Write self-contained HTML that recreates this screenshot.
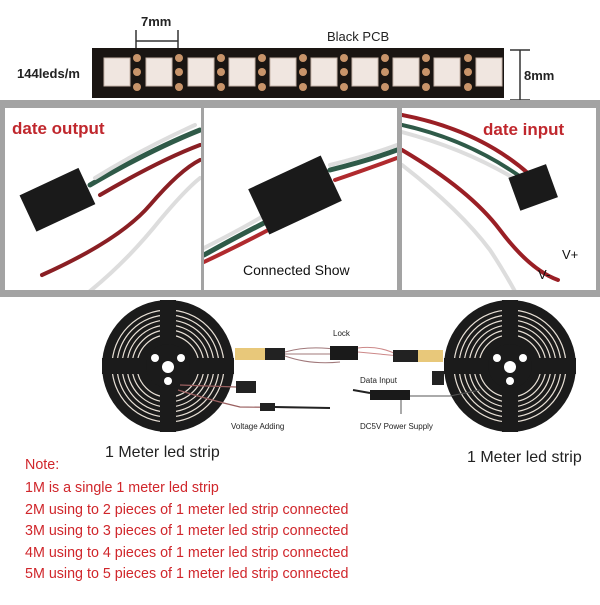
<!DOCTYPE html>
<html><head><style>
body{margin:0;width:600px;height:600px;background:#fff;overflow:hidden;font-family:"Liberation Sans",sans-serif}
</style></head><body>
<svg width="600" height="600" viewBox="0 0 600 600" xmlns="http://www.w3.org/2000/svg">
<defs>
<clipPath id="c1"><rect x="5" y="108" width="196" height="182"/></clipPath>
<clipPath id="c2"><rect x="204" y="108" width="193" height="182"/></clipPath>
<clipPath id="c3"><rect x="402" y="108" width="194" height="182"/></clipPath>
</defs>
<rect width="600" height="600" fill="#fff"/>
<text x="141" y="26" font-size="13" font-weight="bold" fill="#222">7mm</text>
<line x1="136" y1="30" x2="136" y2="52" stroke="#333" stroke-width="1.5"/>
<line x1="178" y1="30" x2="178" y2="52" stroke="#333" stroke-width="1.5"/>
<line x1="136" y1="41" x2="178" y2="41" stroke="#333" stroke-width="1.5"/>
<text x="327" y="41" font-size="13" fill="#222">Black PCB</text>
<text x="17" y="78" font-size="13" font-weight="bold" fill="#222">144leds/m</text>
<rect x="92" y="48" width="412" height="50" fill="#1a1512"/>
<g fill="#f0e6e0" stroke="#c8b5aa" stroke-width="1">
<rect x="104" y="58" width="26" height="28"/><rect x="146" y="58" width="26" height="28"/><rect x="188" y="58" width="26" height="28"/><rect x="229" y="58" width="26" height="28"/><rect x="270" y="58" width="26" height="28"/><rect x="311" y="58" width="26" height="28"/><rect x="352" y="58" width="26" height="28"/><rect x="393" y="58" width="26" height="28"/><rect x="434" y="58" width="26" height="28"/><rect x="476" y="58" width="26" height="28"/>
</g>
<g fill="#c8946a">
<circle cx="137" cy="58" r="4"/><circle cx="137" cy="72" r="4"/><circle cx="137" cy="87" r="4"/>
<circle cx="179" cy="58" r="4"/><circle cx="179" cy="72" r="4"/><circle cx="179" cy="87" r="4"/>
<circle cx="221" cy="58" r="4"/><circle cx="221" cy="72" r="4"/><circle cx="221" cy="87" r="4"/>
<circle cx="262" cy="58" r="4"/><circle cx="262" cy="72" r="4"/><circle cx="262" cy="87" r="4"/>
<circle cx="303" cy="58" r="4"/><circle cx="303" cy="72" r="4"/><circle cx="303" cy="87" r="4"/>
<circle cx="344" cy="58" r="4"/><circle cx="344" cy="72" r="4"/><circle cx="344" cy="87" r="4"/>
<circle cx="385" cy="58" r="4"/><circle cx="385" cy="72" r="4"/><circle cx="385" cy="87" r="4"/>
<circle cx="426" cy="58" r="4"/><circle cx="426" cy="72" r="4"/><circle cx="426" cy="87" r="4"/>
<circle cx="468" cy="58" r="4"/><circle cx="468" cy="72" r="4"/><circle cx="468" cy="87" r="4"/>
</g>
<line x1="520" y1="50" x2="520" y2="100" stroke="#333" stroke-width="1.5"/>
<line x1="510" y1="50" x2="530" y2="50" stroke="#333" stroke-width="1.5"/>
<line x1="510" y1="100" x2="530" y2="100" stroke="#333" stroke-width="1.5"/>
<text x="524" y="80" font-size="13" font-weight="bold" fill="#222">8mm</text>
<rect x="0" y="100" width="600" height="197" fill="#a3a3a3"/>
<rect x="5" y="108" width="196" height="182" fill="#fff"/>
<rect x="204" y="108" width="193" height="182" fill="#fff"/>
<rect x="402" y="108" width="194" height="182" fill="#fff"/>
<g clip-path="url(#c1)">
<g fill="none" stroke-linecap="round">
<path d="M90 185 Q150 150 200 130" stroke="#2f5a48" stroke-width="5"/>
<path d="M95 178 Q140 150 195 125" stroke="#ddd" stroke-width="4"/>
<path d="M100 195 Q160 160 200 145" stroke="#8a1f24" stroke-width="4"/>
<path d="M42 275 Q120 240 150 205 Q180 170 200 160" stroke="#8a1f24" stroke-width="4"/>
<path d="M72 305 Q120 270 160 220 Q185 190 200 178" stroke="#ddd" stroke-width="4"/>
</g>
<rect x="25" y="180" width="65" height="40" fill="#1a1a1a" transform="rotate(-25 57 200)"/>
</g>
<text x="12" y="134" font-size="17" font-weight="bold" fill="#c0272d">date output</text>
<g clip-path="url(#c2)">
<g fill="none" stroke-linecap="round">
<path d="M204 255 Q240 235 270 220" stroke="#2f5a48" stroke-width="5"/>
<path d="M204 248 Q240 230 265 215" stroke="#ddd" stroke-width="4"/>
<path d="M204 262 Q240 245 272 228" stroke="#b02a2e" stroke-width="4"/>
<path d="M330 170 Q370 160 397 150" stroke="#2f5a48" stroke-width="5"/>
<path d="M330 165 Q370 155 397 145" stroke="#ddd" stroke-width="4"/>
<path d="M335 180 Q370 168 397 158" stroke="#b02a2e" stroke-width="4"/>
</g>
<rect x="255" y="170" width="80" height="50" fill="#1a1a1a" transform="rotate(-25 295 195)"/>
</g>
<text x="243" y="275" font-size="14" fill="#111">Connected Show</text>
<g clip-path="url(#c3)">
<g fill="none" stroke-linecap="round">
<path d="M402 115 Q480 130 530 175" stroke="#9a1f25" stroke-width="4"/>
<path d="M402 125 Q470 140 525 180" stroke="#2f5a48" stroke-width="4"/>
<path d="M402 132 Q470 150 525 185" stroke="#ddd" stroke-width="4"/>
<path d="M402 150 Q470 190 500 230 Q530 270 558 280" stroke="#9a1f25" stroke-width="4"/>
<path d="M402 165 Q460 210 490 250 Q510 280 530 320" stroke="#ddd" stroke-width="4"/>
</g>
<rect x="513" y="170" width="40" height="35" fill="#1a1a1a" transform="rotate(-20 533 187)"/>
</g>
<text x="483" y="135" font-size="17" font-weight="bold" fill="#c0272d">date input</text>
<text x="562" y="259" font-size="13" fill="#111">V+</text>
<text x="538" y="279" font-size="13" fill="#111">V-</text>
<g>
<circle cx="168" cy="366" r="66" fill="#1b1b1b"/>
<g fill="none" stroke="#e8e0d6" stroke-width="1.2">
<circle cx="168" cy="366" r="56"/><circle cx="168" cy="366" r="51"/><circle cx="168" cy="366" r="46"/><circle cx="168" cy="366" r="41"/><circle cx="168" cy="366" r="36"/><circle cx="168" cy="366" r="31"/>
</g>
<rect x="160" y="300" width="16" height="132" fill="#1b1b1b"/>
<rect x="102" y="358" width="132" height="16" fill="#1b1b1b"/>
<circle cx="168" cy="366" r="22" fill="#1b1b1b"/>
<circle cx="168" cy="367" r="6" fill="#fff"/><circle cx="155" cy="358" r="4" fill="#fff"/><circle cx="181" cy="358" r="4" fill="#fff"/><circle cx="168" cy="381" r="4" fill="#fff"/>
</g>
<g>
<circle cx="510" cy="366" r="66" fill="#1b1b1b"/>
<g fill="none" stroke="#e8e0d6" stroke-width="1.2">
<circle cx="510" cy="366" r="56"/><circle cx="510" cy="366" r="51"/><circle cx="510" cy="366" r="46"/><circle cx="510" cy="366" r="41"/><circle cx="510" cy="366" r="36"/><circle cx="510" cy="366" r="31"/>
</g>
<rect x="502" y="300" width="16" height="132" fill="#1b1b1b"/>
<rect x="444" y="358" width="132" height="16" fill="#1b1b1b"/>
<circle cx="510" cy="366" r="22" fill="#1b1b1b"/>
<circle cx="510" cy="367" r="6" fill="#fff"/><circle cx="497" cy="358" r="4" fill="#fff"/><circle cx="523" cy="358" r="4" fill="#fff"/><circle cx="510" cy="381" r="4" fill="#fff"/>
</g>
<rect x="235" y="348" width="30" height="12" fill="#e8c87a"/>
<rect x="265" y="348" width="20" height="12" fill="#222"/>
<path d="M285 354 L330 354 M285 352 Q310 345 340 350 M285 356 Q310 365 340 362" stroke="#a0787a" stroke-width="1" fill="none"/>
<rect x="330" y="346" width="28" height="14" fill="#1a1a1a"/>
<path d="M358 352 L400 356 M358 348 Q380 345 400 356" stroke="#c88" stroke-width="1" fill="none"/>
<rect x="393" y="350" width="25" height="12" fill="#222"/>
<rect x="418" y="350" width="25" height="12" fill="#e8c87a"/>
<text x="333" y="336" font-size="8" fill="#222">Lock</text>
<rect x="236" y="381" width="20" height="12" fill="#222"/>
<path d="M180 385 L236 387 M178 390 Q210 400 240 407 L330 408" stroke="#9a6060" stroke-width="1.2" fill="none"/>
<rect x="260" y="403" width="15" height="8" fill="#222"/>
<line x1="275" y1="407" x2="330" y2="408" stroke="#222" stroke-width="2"/>
<text x="231" y="429" font-size="8" fill="#222">Voltage Adding</text>
<text x="360" y="383" font-size="8" fill="#222">Data Input</text>
<rect x="432" y="371" width="12" height="14" fill="#222"/>
<path d="M353 390 L370 393" stroke="#222" stroke-width="2"/>
<rect x="370" y="390" width="40" height="10" fill="#1a1a1a"/>
<path d="M410 396 L450 396 L480 390" stroke="#555" stroke-width="1" fill="none"/>
<line x1="401" y1="400" x2="401" y2="414" stroke="#555" stroke-width="1"/>
<text x="360" y="429" font-size="8" fill="#222">DC5V Power Supply</text>
<text x="105" y="457" font-size="16" fill="#222">1 Meter led strip</text>
<text x="467" y="462" font-size="16" fill="#222">1 Meter led strip</text>
<g font-size="14.3" fill="#d0262b">
<text x="25" y="469">Note:</text>
<text x="25" y="492">1M is a single 1 meter led strip</text>
<text x="25" y="514">2M using to 2 pieces of 1 meter led strip connected</text>
<text x="25" y="535">3M using to 3 pieces of 1 meter led strip connected</text>
<text x="25" y="557">4M using to 4 pieces of 1 meter led strip connected</text>
<text x="25" y="578">5M using to 5 pieces of 1 meter led strip connected</text>
</g>
</svg>
</body></html>
